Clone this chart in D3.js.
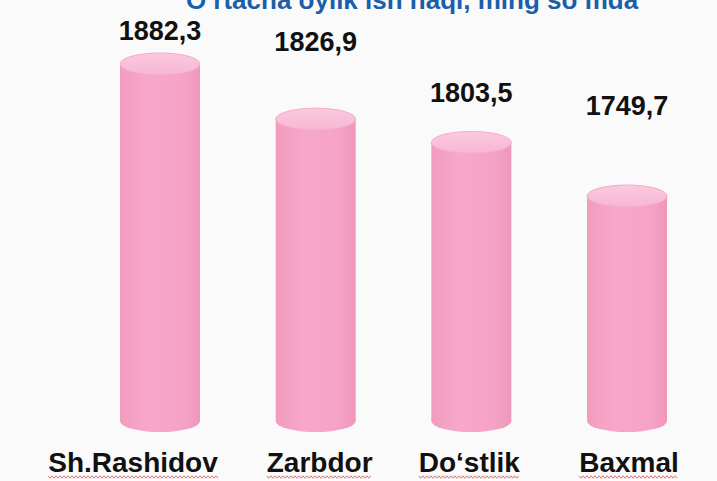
<!DOCTYPE html>
<html>
<head>
<meta charset="utf-8">
<script src="https://cdn.jsdelivr.net/npm/d3@7"></script>
<style>
  html, body { margin: 0; padding: 0; background: #fafafa; }
  svg { display: block; }
</style>
</head>
<body>
<div id="chart"></div>
<script>
var title = "O\u2018rtacha oylik ish haqi, ming so\u2018mda";
var categories = ["Sh.Rashidov", "Zarbdor", "Do\u2018stlik", "Baxmal"];
var values = [1882.3, 1826.9, 1803.5, 1749.7];
var valueLabels = ["1882,3", "1826,9", "1803,5", "1749,7"];

// hand placed label nudges, like on the slide
var labelLift = [24, 68, 40, 81];
var catShift = [-27, 4, -2, 2];

var width = 717, height = 481;
var cylW = 80, ry = 11;

var svg = d3.select("#chart").append("svg")
  .attr("width", width)
  .attr("height", height);

svg.append("rect").attr("width", width).attr("height", height).attr("fill", "#fafafa");

var defs = svg.append("defs");
var bodyGrad = defs.append("linearGradient").attr("id", "bodyGrad");
bodyGrad.append("stop").attr("offset", "0%").attr("stop-color", "#f29bbf");
bodyGrad.append("stop").attr("offset", "35%").attr("stop-color", "#f7a8ca");
bodyGrad.append("stop").attr("offset", "80%").attr("stop-color", "#f5a2c6");
bodyGrad.append("stop").attr("offset", "100%").attr("stop-color", "#ef96bb");

var capGrad = defs.append("linearGradient").attr("id", "topGrad")
  .attr("x1", 0).attr("y1", 0).attr("x2", 0).attr("y2", 1);
capGrad.append("stop").attr("offset", "0%").attr("stop-color", "#fbcadf");
capGrad.append("stop").attr("offset", "100%").attr("stop-color", "#f7b6d2");

var x = d3.scalePoint().domain(categories).range([160, 627]);
var y = d3.scaleLinear().domain([1523.7, 1882.3]).range([421, 64]);

svg.append("text")
  .attr("x", 412).attr("y", 9)
  .attr("text-anchor", "middle")
  .attr("font-family", "Liberation Sans, Arial, sans-serif")
  .attr("font-weight", "bold")
  .attr("font-size", 26)
  .attr("fill", "#1b5ea9")
  .text(title);

var g = svg.selectAll("g.cyl")
  .data(categories)
  .enter().append("g").attr("class", "cyl");

// body
g.append("rect")
  .attr("x", function(d) { return x(d) - cylW / 2; })
  .attr("y", function(d, i) { return y(values[i]); })
  .attr("width", cylW)
  .attr("height", function(d, i) { return y(1523.7) - y(values[i]); })
  .attr("fill", "url(#bodyGrad)");

// bottom
g.append("ellipse")
  .attr("cx", function(d) { return x(d); })
  .attr("cy", y(1523.7))
  .attr("rx", cylW / 2).attr("ry", ry)
  .attr("fill", "url(#bodyGrad)");

// top
g.append("ellipse")
  .attr("cx", function(d) { return x(d); })
  .attr("cy", function(d, i) { return y(values[i]); })
  .attr("rx", cylW / 2).attr("ry", ry)
  .attr("fill", "url(#topGrad)")
  .attr("stroke", "#f4aacb")
  .attr("stroke-width", 1);

g.append("text")
  .attr("x", function(d) { return x(d); })
  .attr("y", function(d, i) { return y(values[i]) - labelLift[i]; })
  .attr("text-anchor", "middle")
  .attr("font-family", "Liberation Sans, Arial, sans-serif")
  .attr("font-weight", "bold")
  .attr("font-size", 27)
  .attr("fill", "#111")
  .text(function(d, i) { return valueLabels[i]; });

var cat = g.append("text")
  .attr("x", function(d, i) { return x(d) + catShift[i]; })
  .attr("y", 472)
  .attr("text-anchor", "middle")
  .attr("font-family", "Liberation Sans, Arial, sans-serif")
  .attr("font-weight", "bold")
  .attr("font-size", 28)
  .attr("fill", "#111")
  .text(function(d) { return d; });

// spell checker squiggles
cat.each(function() {
  var b = this.getBBox();
  var pts = [];
  for (var px = b.x, k = 0; px <= b.x + b.width; px += 2, k++) {
    pts.push([px, 477 + (k % 2 ? 1.2 : -1.2)]);
  }
  d3.select(this.parentNode).append("path")
    .attr("d", d3.line()(pts))
    .attr("fill", "none")
    .attr("stroke", "#d84a4a")
    .attr("stroke-width", 1)
    .attr("opacity", 0.8);
});
</script>
</body>
</html>
